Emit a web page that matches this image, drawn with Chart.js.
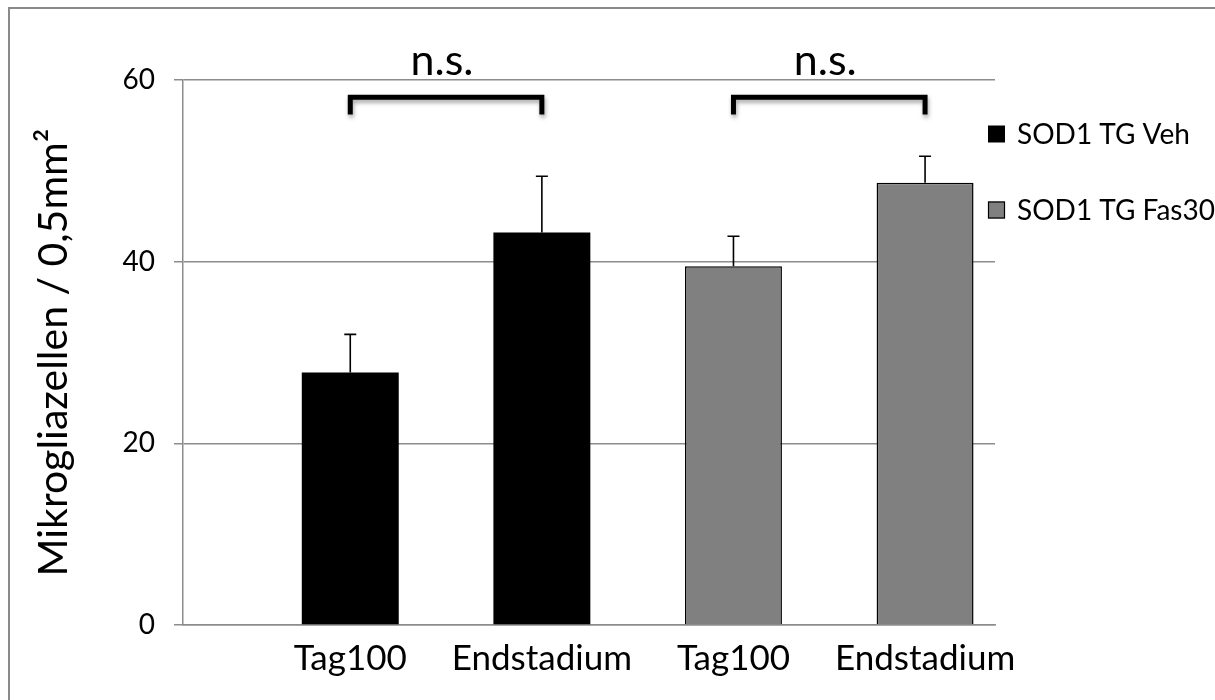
<!DOCTYPE html>
<html>
<head>
<meta charset="utf-8">
<script src="https://cdn.jsdelivr.net/npm/chart.js@4"></script>
<style>
  html, body { margin: 0; padding: 0; background: #fff; overflow: hidden; }
  #wrap { position: relative; width: 1215px; height: 700px; }
  #wrap canvas { position: absolute; left: 0; top: 0; }
  #frame { position: absolute; left: 8px; top: 7px; width: 1400px; height: 900px;
           border-left: 2px solid #8a8a8a; border-top: 2px solid #8a8a8a; pointer-events: none; }
</style>
</head>
<body>
<div id="wrap">
  <canvas id="chart" width="1215" height="700"></canvas>
  <div id="frame"></div>
</div>
<script>
// Group labels along the x axis and their slot positions
const categories = ['Tag100', 'Endstadium', 'Tag100', 'Endstadium'];
const slots = [1, 2, 3, 4];

// Series: microglia counts per 0.5 mm² (mean and SEM)
const seriesNames = ['SOD1 TG Veh', 'SOD1 TG Fas30'];
const vehSlots = [1, 2];
const vehMean = [27.8, 43.2];
const vehErr = [4.2, 6.2];
const fasSlots = [3, 4];
const fasMean = [39.5, 48.7];
const fasErr = [3.3, 2.9];

// Y axis ticks
const yTicks = [0, 20, 40, 60];

// Pairwise comparisons drawn as brackets
const compFrom = [1, 3];
const compTo = [2, 4];
const compLabels = ['n.s.', 'n.s.'];

const FONT = 'Lato';
const GRID = '#8c8c8c';

// Upward error whiskers on each bar
const errorBars = {
  id: 'errorBars',
  afterDatasetsDraw(chart, args, o) {
    const { ctx, scales: { y } } = chart;
    chart.data.datasets.forEach((ds, di) => {
      const meta = chart.getDatasetMeta(di);
      meta.data.forEach((bar, i) => {
        const v = ds.data[i].y;
        const e = ds.errors[i];
        const y0 = y.getPixelForValue(v);
        const y1 = y.getPixelForValue(v + e);
        ctx.save();
        ctx.strokeStyle = o.color;
        ctx.lineWidth = o.width;
        ctx.beginPath();
        ctx.moveTo(bar.x, y0);
        ctx.lineTo(bar.x, y1);
        ctx.moveTo(bar.x - o.cap / 2, y1);
        ctx.lineTo(bar.x + o.cap / 2, y1);
        ctx.stroke();
        ctx.restore();
      });
    });
  }
};

// Significance brackets with their labels
const sigBrackets = {
  id: 'sigBrackets',
  afterDatasetsDraw(chart, args, o) {
    const { ctx, scales: { x, y } } = chart;
    compFrom.forEach((a, i) => {
      const x1 = x.getPixelForValue(a);
      const x2 = x.getPixelForValue(compTo[i]);
      const yt = y.getPixelForValue(o.level);
      const yl = y.getPixelForValue(o.leg);
      ctx.save();
      ctx.lineWidth = o.width;
      ctx.strokeStyle = '#000';
      ctx.lineJoin = 'miter';
      ctx.lineCap = 'butt';
      ctx.shadowColor = 'rgba(0,0,0,0.35)';
      ctx.shadowBlur = 4;
      ctx.shadowOffsetX = 1;
      ctx.shadowOffsetY = 3;
      ctx.beginPath();
      ctx.moveTo(x1, yl);
      ctx.lineTo(x1, yt);
      ctx.lineTo(x2, yt);
      ctx.lineTo(x2, yl);
      ctx.stroke();
      ctx.restore();

      ctx.save();
      ctx.fillStyle = '#000';
      ctx.font = o.fontSize + 'px ' + FONT;
      ctx.textAlign = 'center';
      ctx.textBaseline = 'alphabetic';
      ctx.fillText(compLabels[i], (x1 + x2) / 2 - 4, yt - o.labelGap);
      ctx.restore();
    });
  }
};

// Legend column at the right of the plot
const sideLegend = {
  id: 'sideLegend',
  afterDraw(chart, args, o) {
    const ctx = chart.ctx;
    chart.data.datasets.forEach((ds, i) => {
      const cy = o.top + i * o.spacing;
      ctx.save();
      ctx.fillStyle = ds.backgroundColor;
      ctx.fillRect(o.left, cy - o.box / 2, o.box, o.box);
      if (ds.borderWidth) {
        ctx.strokeStyle = ds.borderColor;
        ctx.lineWidth = 1.2;
        ctx.strokeRect(o.left + 0.5, cy - o.box / 2 + 0.5, o.box - 1, o.box - 1);
      }
      ctx.fillStyle = '#000';
      ctx.font = o.fontSize + 'px ' + FONT;
      ctx.textAlign = 'left';
      ctx.textBaseline = 'middle';
      ctx.fillText(ds.label, o.left + o.box + o.gap, cy + 1);
      ctx.restore();
    });
  }
};

new Chart(document.getElementById('chart'), {
  type: 'bar',
  data: {
    datasets: [
      {
        label: seriesNames[0],
        data: vehSlots.map((s, i) => ({ x: s, y: vehMean[i] })),
        errors: vehErr,
        backgroundColor: '#000000',
        borderWidth: 0,
        grouped: false,
        barPercentage: 0.506,
        categoryPercentage: 1
      },
      {
        label: seriesNames[1],
        data: fasSlots.map((s, i) => ({ x: s, y: fasMean[i] })),
        errors: fasErr,
        backgroundColor: '#808080',
        borderColor: '#000000',
        borderWidth: 1.5,
        grouped: false,
        barPercentage: 0.506,
        categoryPercentage: 1
      }
    ]
  },
  options: {
    responsive: false,
    animation: false,
    devicePixelRatio: 1,
    layout: { padding: { left: 0, right: 220, top: 80, bottom: 0 } },
    plugins: {
      legend: { display: false },
      tooltip: { enabled: false },
      errorBars: { color: '#000', width: 1.6, cap: 12 },
      sigBrackets: { level: 58.1, leg: 56.2, width: 5, fontSize: 43, labelGap: 22 },
      sideLegend: { left: 988, top: 134, spacing: 76, box: 17, gap: 12, fontSize: 28 }
    },
    scales: {
      x: {
        type: 'linear',
        offset: false,
        min: 0.127,
        max: 4.365,
        afterBuildTicks(scale) { scale.ticks = slots.map(v => ({ value: v })); },
        afterFit(scale) { scale.height = 75; },
        grid: { display: false, drawTicks: false, offset: false },
        border: { display: true, color: GRID, width: 1.5 },
        ticks: {
          autoSkip: false,
          maxRotation: 0,
          padding: 13,
          color: '#000',
          font: { family: FONT, size: 35 },
          callback: (v, i) => categories[i]
        }
      },
      y: {
        min: 0,
        max: 60,
        afterBuildTicks(scale) { scale.ticks = yTicks.map(v => ({ value: v })); },
        afterFit(scale) { scale.width = 183; },
        grid: { color: GRID, lineWidth: 1.5, tickLength: 9, drawTicks: true },
        border: { display: true, color: GRID, width: 1.5 },
        ticks: {
          padding: 19,
          color: '#000',
          font: { family: FONT, size: 28 }
        },
        title: {
          display: true,
          text: 'Mikrogliazellen / 0,5mm²',
          color: '#000',
          font: { family: FONT, size: 41 },
          padding: { top: 29, bottom: 0 }
        }
      }
    }
  },
  plugins: [errorBars, sigBrackets, sideLegend]
});
</script>
</body>
</html>
